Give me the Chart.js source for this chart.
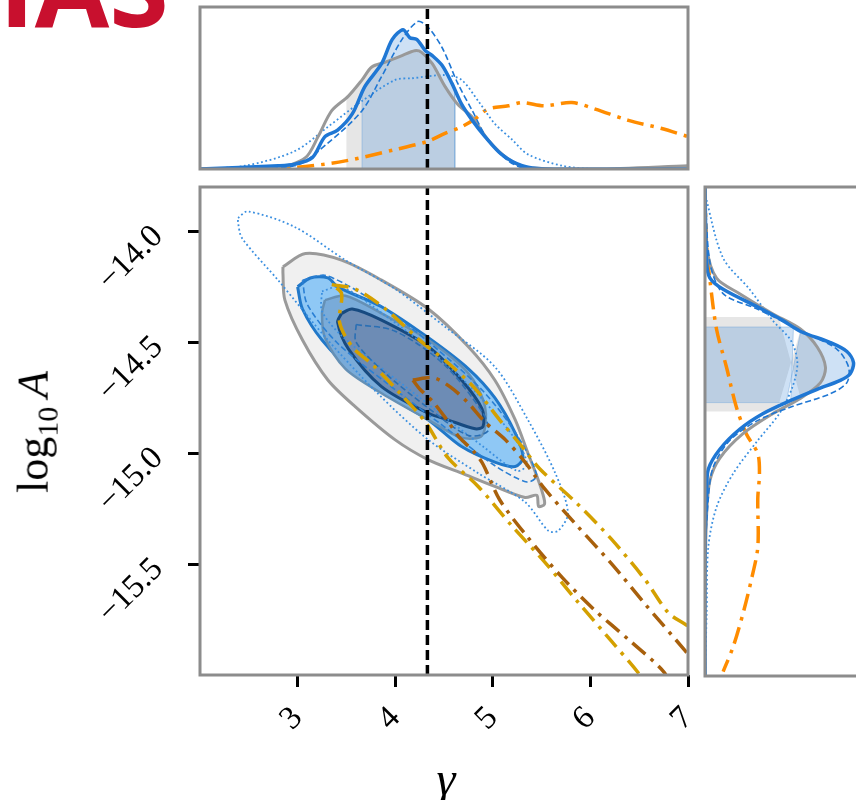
<!DOCTYPE html>
<html>
<head>
<meta charset="utf-8">
<script src="https://cdn.jsdelivr.net/npm/chart.js@4.4.0/dist/chart.umd.min.js"></script>
<style>
  html, body { margin: 0; padding: 0; width: 856px; height: 800px; overflow: hidden; background: #fff; }
  canvas { position: absolute; }
  #title { position: absolute; left: -1px; top: -68px; font: bold 108px "Open Sans"; line-height: 1; color: #c8102e; white-space: nowrap; }
  #ylab { position: absolute; left: 36px; top: 432px; transform: translate(-50%, -50%) rotate(-90deg);
          font: 44px "Liberation Serif"; white-space: nowrap; color: #000; }
  #ylab sub { font-size: 0.68em; }
  #xlab { position: absolute; left: 446px; top: 778px; transform: translate(-50%, -50%);
          font: italic 48px "Liberation Serif"; color: #000; }
</style>
</head>
<body>
<div id="title">IAS</div>
<canvas id="topChart" width="510" height="185" style="left:190px;top:0px"></canvas>
<canvas id="mainChart" width="700" height="620" style="left:0px;top:180px"></canvas>
<canvas id="rightChart" width="200" height="510" style="left:695px;top:177px"></canvas>
<div id="ylab">log<sub>10</sub>&thinsp;<i>A</i></div>
<div id="xlab">γ</div>
<script>
// axis ranges and ticks
const gammaRange = [2, 7];
const logARange = [-16, -13.8];
const gammaTicks = [3, 4, 5, 6, 7];
const logATicks = [-14.0, -14.5, -15.0, -15.5];
const truthGamma = 4.33;

// 2D credible contours [gamma, log10 A]
const grayOuter = [[2.85,-14.16],[3.08,-14.10],[3.45,-14.13],[3.86,-14.22],[4.34,-14.35],[4.75,-14.52],[5.02,-14.67],[5.23,-14.85],[5.36,-15.00],[5.44,-15.09],[5.51,-15.18],[5.53,-15.23],[5.47,-15.24],[5.45,-15.19],[5.33,-15.20],[5.02,-15.15],[4.68,-15.09],[4.34,-15.03],[4.00,-14.94],[3.59,-14.79],[3.31,-14.67],[3.05,-14.49],[2.87,-14.31],[2.85,-14.19]];
const grayInner = [[3.28,-14.31],[3.49,-14.29],[3.86,-14.37],[4.34,-14.49],[4.75,-14.64],[4.92,-14.79],[4.89,-14.92],[4.68,-14.93],[4.34,-14.85],[3.86,-14.73],[3.49,-14.62],[3.28,-14.48],[3.25,-14.37]];
const blueOuter = [[3.00,-14.25],[3.13,-14.21],[3.31,-14.21],[3.41,-14.25],[3.86,-14.34],[4.34,-14.48],[4.75,-14.62],[5.02,-14.75],[5.23,-14.91],[5.31,-15.02],[5.23,-15.06],[5.02,-15.04],[4.68,-14.97],[4.34,-14.85],[4.00,-14.76],[3.59,-14.64],[3.25,-14.49],[3.05,-14.35]];
const blueInner = [[3.45,-14.37],[3.56,-14.35],[3.86,-14.40],[4.34,-14.52],[4.68,-14.67],[4.89,-14.80],[4.90,-14.88],[4.82,-14.89],[4.54,-14.85],[4.34,-14.82],[3.86,-14.70],[3.52,-14.53],[3.41,-14.41]];
const dottedOuter = [[2.39,-13.94],[2.49,-13.91],[2.97,-13.98],[3.49,-14.13],[4.00,-14.26],[4.51,-14.43],[5.02,-14.61],[5.36,-14.85],[5.64,-15.09],[5.77,-15.27],[5.67,-15.35],[5.57,-15.35],[5.33,-15.22],[4.85,-15.09],[4.34,-14.94],[3.82,-14.73],[3.31,-14.49],[2.80,-14.22],[2.43,-14.03],[2.39,-13.96]];
const dottedInner = [[3.25,-14.27],[3.45,-14.25],[3.90,-14.38],[4.40,-14.55],[4.90,-14.76],[5.25,-14.95],[5.35,-15.05],[5.25,-15.08],[4.90,-14.97],[4.40,-14.80],[3.90,-14.63],[3.45,-14.47],[3.25,-14.36]];
const dashedOuter = [[3.05,-14.22],[3.30,-14.20],[3.90,-14.35],[4.40,-14.52],[4.90,-14.72],[5.25,-14.92],[5.45,-15.10],[5.35,-15.13],[5.00,-15.05],[4.50,-14.88],[3.90,-14.68],[3.40,-14.50],[3.10,-14.33]];
const dashedInner = [[3.60,-14.42],[4.00,-14.45],[4.50,-14.60],[4.90,-14.82],[4.95,-14.90],[4.75,-14.92],[4.35,-14.80],[3.90,-14.64],[3.60,-14.50]];
const goldOuter = [[3.35,-14.24],[3.59,-14.26],[3.90,-14.35],[4.25,-14.49],[4.56,-14.60],[4.82,-14.71],[5.07,-14.85],[5.28,-14.96],[5.48,-15.07],[5.87,-15.23],[6.22,-15.39],[6.56,-15.57],[6.80,-15.72],[7.00,-15.78],[7.33,-15.89],[7.50,-16.40],[6.61,-16.07],[6.49,-15.99],[6.22,-15.85],[5.87,-15.67],[5.53,-15.49],[5.20,-15.33],[4.85,-15.15],[4.54,-15.02],[4.31,-14.86],[4.07,-14.74],[3.79,-14.61],[3.56,-14.52],[3.43,-14.41],[3.45,-14.28]];
const brownInner = [[4.18,-14.67],[4.39,-14.66],[4.56,-14.70],[4.74,-14.77],[4.92,-14.86],[5.13,-14.94],[5.33,-15.04],[5.53,-15.16],[5.87,-15.33],[6.22,-15.50],[6.56,-15.68],[6.97,-15.89],[7.12,-15.97],[7.40,-16.40],[6.82,-16.07],[6.76,-15.99],[6.39,-15.84],[6.05,-15.71],[5.71,-15.56],[5.36,-15.38],[5.07,-15.21],[4.90,-15.05],[4.80,-14.99],[4.66,-14.93],[4.53,-14.85],[4.39,-14.77],[4.25,-14.71]];

// top marginal: gamma density
const topGrayX = [2.00,2.80,3.08,3.21,3.35,3.52,3.66,3.76,3.90,4.07,4.20,4.27,4.38,4.51,4.64,4.79,4.95,5.16,5.36,6.05,7.00];
const topGrayY = [0.00,0.01,0.07,0.20,0.36,0.45,0.55,0.63,0.66,0.70,0.73,0.72,0.65,0.51,0.40,0.32,0.18,0.06,0.01,0.00,0.02];
const topBlueX = [2.00,2.80,2.97,3.15,3.28,3.41,3.56,3.69,3.86,3.97,4.08,4.15,4.22,4.31,4.38,4.48,4.58,4.68,4.79,4.92,5.09,5.30,5.53,7.00];
const topBlueY = [0.00,0.02,0.03,0.07,0.20,0.24,0.34,0.51,0.65,0.80,0.86,0.81,0.80,0.73,0.70,0.64,0.53,0.40,0.30,0.20,0.09,0.02,0.00,0.00];
const topDashX = [2.00,2.97,3.31,3.66,3.86,4.07,4.23,4.33,4.48,4.64,4.79,4.95,5.16,5.36,7.00];
const topDashY = [0.00,0.02,0.16,0.36,0.57,0.80,0.91,0.88,0.75,0.53,0.36,0.18,0.05,0.00,0.00];
const topDotX = [2.00,2.46,2.97,3.31,3.66,4.00,4.17,4.51,4.68,4.85,5.02,5.20,5.36,5.71,6.05,7.00];
const topDotY = [0.00,0.02,0.11,0.26,0.42,0.55,0.56,0.58,0.55,0.42,0.28,0.18,0.09,0.02,0.00,0.00];
const topOrangeX = [2.29,2.97,3.49,4.00,4.33,4.51,4.68,4.82,4.95,5.16,5.30,5.53,5.81,6.05,6.39,6.73,7.00];
const topOrangeY = [0.00,0.01,0.05,0.12,0.17,0.22,0.26,0.31,0.37,0.39,0.41,0.39,0.41,0.37,0.30,0.25,0.20];
const topGrayBand = [3.50, 4.62];
const topBlueBand = [3.66, 4.61];

// right marginal: log10 A density
const rightGrayA = [-13.80,-14.07,-14.21,-14.28,-14.37,-14.44,-14.52,-14.61,-14.68,-14.75,-14.82,-14.91,-15.02,-15.12,-15.27,-15.60,-16.00];
const rightGrayD = [0.00,0.01,0.07,0.21,0.41,0.58,0.68,0.73,0.70,0.58,0.41,0.23,0.09,0.03,0.01,0.00,0.00];
const rightBlueA = [-13.80,-14.14,-14.21,-14.26,-14.34,-14.40,-14.45,-14.50,-14.54,-14.59,-14.64,-14.67,-14.71,-14.76,-14.82,-14.89,-14.98,-15.07,-15.18,-15.40,-16.00];
const rightBlueD = [0.00,0.01,0.03,0.11,0.32,0.47,0.58,0.76,0.86,0.90,0.88,0.82,0.68,0.52,0.35,0.21,0.09,0.02,0.01,0.00,0.00];
const rightDashA = [-13.80,-14.14,-14.28,-14.35,-14.46,-14.53,-14.61,-14.68,-14.73,-14.79,-14.85,-14.94,-15.06,-15.20,-15.50,-16.00];
const rightDashD = [0.00,0.03,0.11,0.32,0.62,0.80,0.87,0.86,0.76,0.52,0.32,0.15,0.05,0.02,0.00,0.00];
const rightDotA = [-13.80,-13.86,-14.12,-14.26,-14.40,-14.49,-14.59,-14.70,-14.82,-14.94,-15.09,-15.24,-15.42,-15.72,-16.00];
const rightDotD = [0.00,0.01,0.11,0.27,0.41,0.52,0.56,0.53,0.45,0.32,0.17,0.07,0.02,0.01,0.00];
const rightOrangeA = [-13.81,-14.07,-14.22,-14.44,-14.61,-14.79,-14.91,-15.00,-15.09,-15.20,-15.42,-15.57,-15.72,-15.87,-15.98];
const rightOrangeD = [0.00,0.01,0.03,0.07,0.13,0.19,0.25,0.32,0.33,0.32,0.32,0.28,0.23,0.17,0.11];
const rightGrayBand = [-14.81, -14.385];
const rightBlueBand = [-14.77, -14.43];

const BLUE = '#1f77d4', GRAY = '#999999', ORANGE = '#ff8c00', GOLD = '#d4a000', BROWN = '#a8600c';
const DASHDOT = [17, 7, 3.5, 7];

function interp(xs, ys, v) {
  for (let i = 1; i < xs.length; i++) {
    const a = xs[i - 1], b = xs[i];
    if ((v - a) * (v - b) <= 0 && a !== b) return ys[i - 1] + (ys[i] - ys[i - 1]) * (v - a) / (b - a);
  }
  return 0;
}
const curve = (xs, ys) => xs.map((x, i) => ({x, y: ys[i]}));
const loop = arr => arr.concat([arr[0]]).map(p => ({x: p[0], y: p[1]}));
// shaded area under a curve between lo and hi (horizontal = curve is y(x), else x(y))
function band(xs, ys, lo, hi, horizontal) {
  const pts = [[lo, 0], [lo, interp(xs, ys, lo)]];
  xs.forEach((x, i) => { if (x > lo && x < hi) pts.push([x, ys[i]]); });
  pts.push([hi, interp(xs, ys, hi)], [hi, 0], [lo, 0]);
  return pts.map(p => horizontal ? {x: p[0], y: p[1]} : {x: p[1], y: p[0]});
}

const frame = {
  id: 'frame',
  afterDatasetsDraw(chart) {
    const {ctx, chartArea: a} = chart;
    ctx.save();
    ctx.strokeStyle = '#8c8c8c';
    ctx.lineWidth = 3;
    ctx.strokeRect(a.left, a.top, a.right - a.left, a.bottom - a.top);
    ctx.restore();
  }
};

function line(data, color, width, dash, extra) {
  return Object.assign({data, borderColor: color, borderWidth: width, borderDash: dash || [],
    fill: false, pointRadius: 0, pointHoverRadius: 0, tension: 0.3}, extra || {});
}
function area(data, fillColor, borderColor, width, dash) {
  return line(data, borderColor, width, dash, {fill: 'shape', backgroundColor: fillColor});
}

const baseOptions = (padding, xr, yr, scalesExtra) => ({
  responsive: false,
  animation: false,
  events: [],
  layout: {padding},
  plugins: {legend: {display: false}, tooltip: {enabled: false}},
  elements: {point: {radius: 0}, line: {capBezierPoints: false}},
  scales: Object.assign({
    x: {type: 'linear', min: xr[0], max: xr[1], display: false},
    y: {type: 'linear', min: yr[0], max: yr[1], display: false}
  }, scalesExtra || {})
});

// ---- top marginal ----
const topSets = [
  area(band(topGrayX, topGrayY, topGrayBand[0], topGrayBand[1], true), 'rgba(128,128,128,0.2)', 'rgba(0,0,0,0)', 0),
  area(band(topBlueX, topBlueY, topBlueBand[0], topBlueBand[1], true), 'rgba(31,119,208,0.22)', 'rgba(120,170,220,0.5)', 1),
  line(curve(topOrangeX, topOrangeY), ORANGE, 3.5, DASHDOT),
  line(curve(topDotX, topDotY), '#3a8fe0', 1.8, [1.8, 2.6]),
  line(curve(topGrayX, topGrayY), GRAY, 3),
  line(curve(topDashX, topDashY), BLUE, 1.6, [6, 3]),
  line(curve(topBlueX, topBlueY), BLUE, 3.5),
  line([{x: truthGamma, y: 0}, {x: truthGamma, y: 1}], '#000', 3.5, [10, 5], {tension: 0})
].reverse();
topSets.slice(-2).forEach(d => d.tension = 0);
topSets[0].tension = 0;

new Chart(document.getElementById('topChart'), {
  type: 'line',
  data: {datasets: topSets},
  options: baseOptions({left: 10, right: 12, top: 7, bottom: 16}, gammaRange, [0, 1]),
  plugins: [frame]
});

// ---- right marginal ----
const rightSets = [
  area(band(rightGrayA, rightGrayD, rightGrayBand[0], rightGrayBand[1], false), 'rgba(128,128,128,0.2)', 'rgba(0,0,0,0)', 0),
  area(band(rightBlueA, rightBlueD, rightBlueBand[0], rightBlueBand[1], false), 'rgba(31,119,208,0.22)', 'rgba(120,170,220,0.5)', 1),
  line(curve(rightOrangeD, rightOrangeA), ORANGE, 3.5, DASHDOT),
  line(curve(rightDotD, rightDotA), '#3a8fe0', 1.8, [1.8, 2.6]),
  line(curve(rightGrayD, rightGrayA), GRAY, 3),
  line(curve(rightDashD, rightDashA), BLUE, 1.6, [6, 3]),
  line(curve(rightBlueD, rightBlueA), BLUE, 3.5)
];
rightSets[0].tension = 0;
rightSets[1].tension = 0;
rightSets.reverse();

new Chart(document.getElementById('rightChart'), {
  type: 'line',
  data: {datasets: rightSets},
  options: baseOptions({left: 10, right: 25, top: 10, bottom: 11}, [0, 1], logARange),
  plugins: [frame]
});

// ---- main 2D panel ----
const tickFont = {family: 'Liberation Serif', size: 33};
const mainSets = [
  area(loop(grayOuter), '#f0f0f0', '#9a9a9a', 3),
  area(loop(blueOuter), '#8fc8f5', '#2178c9', 3),
  area(loop(grayInner), '#79abd9', '#6590b5', 2.5),
  area(loop(blueInner), '#6d8cb5', '#174a80', 3),
  line(loop(dottedOuter), '#3a8fe0', 1.8, [1.8, 2.6]),
  line(loop(dottedInner), '#3a8fe0', 1.8, [1.8, 2.6]),
  line(loop(dashedOuter), '#2a7fd4', 1.6, [6, 3]),
  line(loop(dashedInner), '#2a6fb4', 1.6, [6, 3]),
  line(loop(goldOuter), GOLD, 3.5, DASHDOT),
  line(loop(brownInner), BROWN, 3.5, DASHDOT),
  line([{x: truthGamma, y: logARange[0]}, {x: truthGamma, y: logARange[1]}], '#000', 3.5, [10, 5], {tension: 0})
].reverse();

new Chart(document.getElementById('mainChart'), {
  type: 'line',
  data: {datasets: mainSets},
  options: baseOptions({left: 0, right: 12, top: 7, bottom: 0}, gammaRange, logARange, {
    x: {
      type: 'linear', min: gammaRange[0], max: gammaRange[1],
      afterBuildTicks: s => { s.ticks = gammaTicks.map(v => ({value: v})); },
      afterFit: s => { s.height = 125; s.paddingLeft = 0; s.paddingRight = 0; },
      border: {display: false},
      grid: {drawOnChartArea: false, tickLength: 12, tickWidth: 3, tickColor: '#000'},
      ticks: {minRotation: 45, maxRotation: 45, color: '#000', font: tickFont, padding: 12,
              callback: v => String(v)}
    },
    y: {
      type: 'linear', min: logARange[0], max: logARange[1],
      afterBuildTicks: s => { s.ticks = logATicks.map(v => ({value: v})); },
      afterFit: s => { s.width = 200; s.paddingTop = 0; s.paddingBottom = 0; },
      border: {display: false},
      grid: {drawOnChartArea: false, tickLength: 12, tickWidth: 3, tickColor: '#000'},
      ticks: {minRotation: 45, maxRotation: 45, color: '#000', font: tickFont, padding: 30,
              callback: v => '\u2212' + Math.abs(v).toFixed(1)}
    }
  }),
  plugins: [frame]
});
</script>
</body>
</html>
